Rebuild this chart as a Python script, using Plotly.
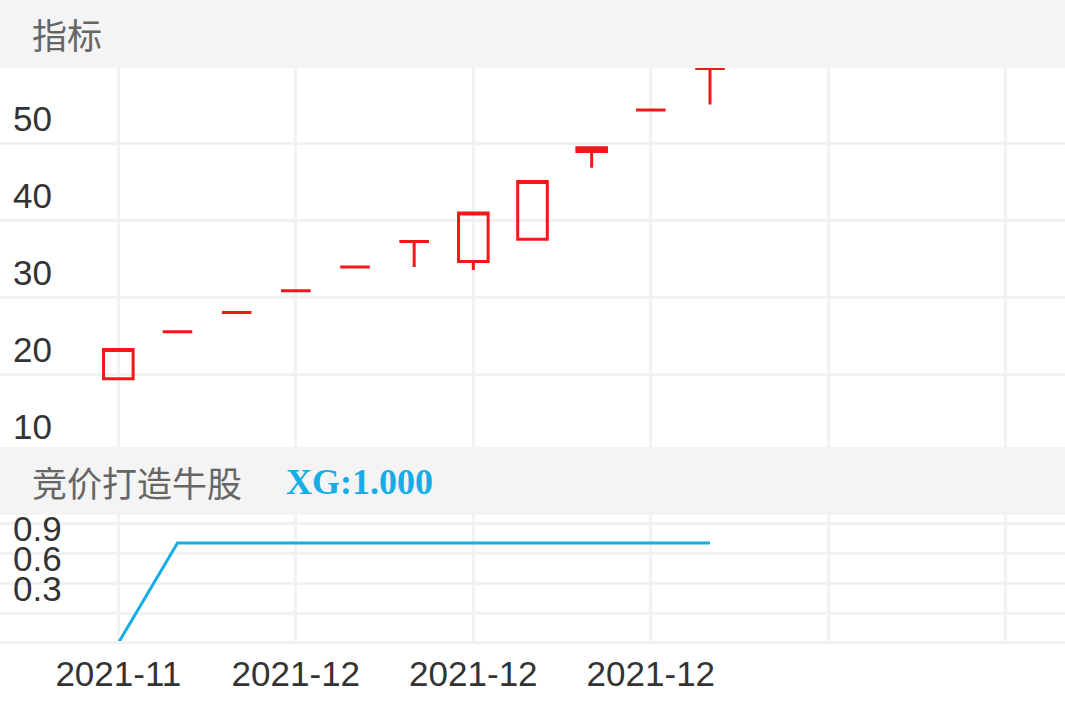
import plotly.graph_objects as go

# candle data
idx = list(range(11))
opens = [19.4, 25.5, 28.0, 30.8, 33.9, 37.2, 34.6, 37.5, 48.9, 54.3, 59.7]
highs = [23.2, 25.5, 28.0, 30.8, 33.9, 37.2, 40.9, 45.0, 49.4, 54.3, 59.7]
lows = [19.4, 25.5, 28.0, 30.8, 33.9, 33.9, 33.5, 37.5, 46.8, 54.3, 55.0]
closes = [23.2, 25.5, 28.0, 30.8, 33.9, 37.2, 40.9, 45.0, 49.4, 54.3, 59.7]

# indicator line
xg = [0, 1, 1, 1, 1, 1, 1, 1, 1, 1, 1]

x_ticks = [0, 3, 6, 9, 12, 15]
x_labels = ["2021-11", "2021-12", "2021-12", "2021-12", "", ""]
y1_ticks = [10, 20, 30, 40, 50]
y2_ticks = [0.3, 0.6, 0.9, 1.2]
y2_labels = ["0.3", "0.6", "0.9", ""]

W, H = 1065, 708
RED = "#f01818"
CYAN = "#16ace6"
GRID = "#f1f2f4"
HEAD = "#f4f4f4"


def py(px):
    return 1 - px / H


fig = go.Figure()
fig.add_trace(go.Candlestick(
    x=idx, open=opens, high=highs, low=lows, close=closes,
    increasing=dict(line=dict(color=RED, width=3), fillcolor="rgba(0,0,0,0)"),
    decreasing=dict(line=dict(color=RED, width=3), fillcolor="rgba(0,0,0,0)"),
    whiskerwidth=0, showlegend=False, hoverinfo="skip",
    xaxis="x", yaxis="y",
))
fig.add_trace(go.Scatter(
    x=idx, y=xg, mode="lines", line=dict(color=CYAN, width=3),
    showlegend=False, xaxis="x2", yaxis="y2",
))

tickfont = dict(family="Liberation Sans, Arial", size=35, color="#333333")
xcommon = dict(range=[-2, 16], tickmode="array", tickvals=x_ticks,
               showgrid=True, gridcolor=GRID, gridwidth=2.5,
               zeroline=False, fixedrange=True, automargin=False)
ycommon = dict(tickmode="array", ticklabelposition="inside",
               ticklabelshift=-24, ticklabeloverflow="allow",
               ticklabelstandoff=10, tickfont=tickfont,
               showgrid=True, gridcolor=GRID, gridwidth=2.5,
               zeroline=False, fixedrange=True, automargin=False)

fig.update_layout(
    width=W, height=H, autosize=False,
    margin=dict(l=0, r=0, t=0, b=0, pad=0, autoexpand=False),
    paper_bgcolor="white", plot_bgcolor="white",
    boxgap=0.5, boxgroupgap=0,
    xaxis=dict(**xcommon, anchor="y", showticklabels=False,
               rangeslider=dict(visible=False)),
    yaxis=dict(**ycommon, domain=[py(451), py(68)], range=[10, 59.75],
               tickvals=y1_ticks),
    xaxis2=dict(**xcommon, anchor="y2", matches="x",
                ticktext=x_labels, tickfont=tickfont,
                ticklabelstandoff=0,
                showline=True, linecolor=GRID, linewidth=2.5),
    yaxis2=dict(**ycommon, domain=[py(641), py(515)], range=[0.02, 1.28],
                tickvals=y2_ticks, ticktext=y2_labels),
    shapes=[
        dict(type="rect", xref="paper", yref="paper", x0=0, x1=1,
             y0=py(68), y1=1, fillcolor=HEAD, line_width=0, layer="below"),
        dict(type="rect", xref="paper", yref="paper", x0=0, x1=1,
             y0=py(515), y1=py(447), fillcolor=HEAD, line_width=0, layer="above"),
    ],
    annotations=[
        dict(text="指标", xref="paper", yref="paper", x=30 / W, y=py(34),
             xanchor="left", yanchor="middle", showarrow=False,
             font=dict(family="Noto Sans CJK SC", size=35, color="#666666")),
        dict(text="竞价打造牛股", xref="paper", yref="paper", x=30 / W, y=py(481),
             xanchor="left", yanchor="middle", showarrow=False,
             font=dict(family="Noto Sans CJK SC", size=35, color="#666666")),
        dict(text=f"<b>XG:{xg[-1]:.3f}</b>", xref="paper", yref="paper",
             x=284 / W, y=py(482), xanchor="left", yanchor="middle", showarrow=False,
             font=dict(family="Liberation Serif, Times New Roman", size=36, color=CYAN)),
    ],
)

fig.write_html("out.html", config={"displayModeBar": False},
               post_script="document.body.style.margin='0';")
